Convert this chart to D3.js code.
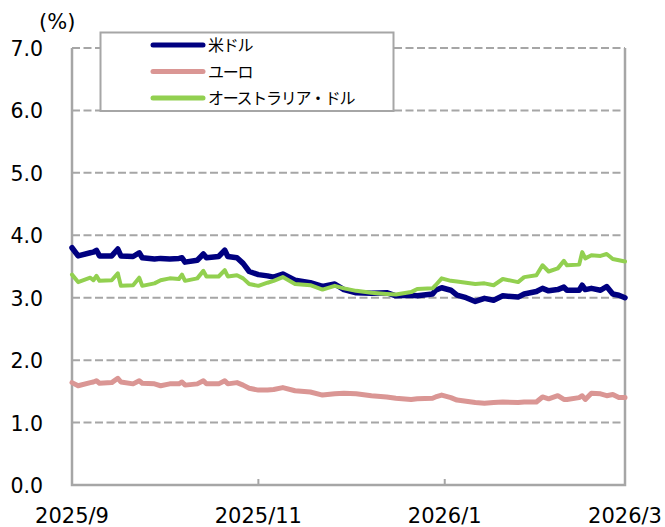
<!DOCTYPE html>
<html>
<head>
<meta charset="utf-8">
<script src="https://cdn.jsdelivr.net/npm/d3@7"></script>
<style>
  body { margin: 0; background: #fff; }
</style>
</head>
<body>
<script>
// Dates of the readings
const dates = [
  "2025-09-01", "2025-09-03", "2025-09-07", "2025-09-08", "2025-09-09", "2025-09-10",
  "2025-09-14", "2025-09-16", "2025-09-17", "2025-09-21", "2025-09-23", "2025-09-24",
  "2025-09-28", "2025-09-30", "2025-10-03", "2025-10-06", "2025-10-07", "2025-10-08",
  "2025-10-12", "2025-10-14", "2025-10-15", "2025-10-19", "2025-10-21", "2025-10-22",
  "2025-10-25", "2025-10-27", "2025-10-29", "2025-11-01", "2025-11-04", "2025-11-06",
  "2025-11-09", "2025-11-13", "2025-11-18", "2025-11-22", "2025-11-26", "2025-11-29",
  "2025-12-03", "2025-12-08", "2025-12-13", "2025-12-16", "2025-12-21", "2025-12-23",
  "2025-12-28", "2025-12-29", "2025-12-31", "2026-01-03", "2026-01-05", "2026-01-08",
  "2026-01-11", "2026-01-14", "2026-01-17", "2026-01-20", "2026-01-25", "2026-01-27",
  "2026-01-31", "2026-02-02", "2026-02-04", "2026-02-07", "2026-02-09", "2026-02-10",
  "2026-02-14", "2026-02-15", "2026-02-16", "2026-02-18", "2026-02-21", "2026-02-23",
  "2026-02-25", "2026-02-27", "2026-03-01"
];

// 米ドル
const usd = [
  3.80, 3.67, 3.72, 3.73, 3.76, 3.67,
  3.67, 3.78, 3.67, 3.66, 3.72, 3.64,
  3.62, 3.63, 3.62, 3.63, 3.64, 3.57,
  3.60, 3.70, 3.64, 3.66, 3.76, 3.66,
  3.64, 3.55, 3.42, 3.37, 3.35, 3.33,
  3.38, 3.28, 3.24, 3.18, 3.22, 3.13,
  3.08, 3.07, 3.08, 3.03, 3.04, 3.03,
  3.06, 3.12, 3.16, 3.12, 3.04, 3.00,
  2.94, 2.99, 2.96, 3.03, 3.01, 3.06,
  3.10, 3.15, 3.11, 3.13, 3.17, 3.12,
  3.12, 3.20, 3.13, 3.15, 3.12, 3.18,
  3.06, 3.04, 3.00
];

// ユーロ
const eur = [
  1.64, 1.59, 1.64, 1.65, 1.67, 1.63,
  1.64, 1.71, 1.65, 1.62, 1.67, 1.63,
  1.62, 1.59, 1.62, 1.62, 1.65, 1.60,
  1.62, 1.67, 1.62, 1.62, 1.67, 1.62,
  1.64, 1.60, 1.55, 1.52, 1.52, 1.53,
  1.56, 1.51, 1.49, 1.44, 1.46, 1.47,
  1.46, 1.43, 1.41, 1.39, 1.37, 1.38,
  1.39, 1.41, 1.44, 1.40, 1.36, 1.34,
  1.32, 1.31, 1.32, 1.33, 1.32, 1.33,
  1.33, 1.41, 1.38, 1.43, 1.37, 1.37,
  1.40, 1.43, 1.37, 1.47, 1.46, 1.43,
  1.45, 1.40, 1.40
];

// オーストラリア・ドル
const aud = [
  3.37, 3.25, 3.32, 3.28, 3.35, 3.27,
  3.28, 3.39, 3.19, 3.20, 3.32, 3.19,
  3.23, 3.28, 3.31, 3.30, 3.37, 3.27,
  3.31, 3.43, 3.34, 3.34, 3.44, 3.34,
  3.36, 3.31, 3.22, 3.19, 3.24, 3.27,
  3.33, 3.22, 3.20, 3.13, 3.19, 3.15,
  3.11, 3.08, 3.06, 3.05, 3.09, 3.14,
  3.15, 3.20, 3.31, 3.27, 3.26, 3.24,
  3.22, 3.23, 3.20, 3.30, 3.25, 3.33,
  3.36, 3.52, 3.42, 3.47, 3.59, 3.52,
  3.53, 3.73, 3.63, 3.68, 3.67, 3.70,
  3.62, 3.60, 3.58
];

const seriesNames = ["米ドル", "ユーロ", "オーストラリア・ドル"];
const seriesColors = ["#000080", "#DA9694", "#92D050"];

const yTicks = [0, 1, 2, 3, 4, 5, 6, 7];
const xTickDates = ["2025-09-01", "2025-11-01", "2026-01-01", "2026-03-01"];
const xTickLabels = ["2025/9", "2025/11", "2026/1", "2026/3"];

// Dimensions
const width = 665;
const height = 527;
const plotLeft = 72;
const plotRight = 625;
const plotTop = 48;
const plotBottom = 485;
const gridColor = "#A6A6A6";
const numFont = "'DejaVu Sans', Verdana, sans-serif";
const jpFont = "'Noto Sans CJK JP', sans-serif";

const parse = d3.utcParse("%Y-%m-%d");

const x = d3.scaleUtc()
  .domain([parse("2025-09-01"), parse("2026-03-01")])
  .range([plotLeft, plotRight]);

const y = d3.scaleLinear()
  .domain([0, 7])
  .range([plotBottom, plotTop]);

const svg = d3.select("body").append("svg")
  .attr("width", width)
  .attr("height", height);

// Gridlines (dashed)
svg.append("g")
  .selectAll("line")
  .data(yTicks.filter(d => d > 0))
  .join("line")
  .attr("x1", plotLeft)
  .attr("x2", plotRight)
  .attr("y1", d => y(d))
  .attr("y2", d => y(d))
  .attr("stroke", gridColor)
  .attr("stroke-width", 2)
  .attr("stroke-dasharray", "8,3.5");

// Y axis labels
svg.append("g")
  .selectAll("text")
  .data(yTicks)
  .join("text")
  .attr("x", 43)
  .attr("y", d => y(d) + 8)
  .attr("text-anchor", "end")
  .attr("font-family", numFont)
  .attr("font-size", 20.5)
  .attr("fill", "#000")
  .text(d => d.toFixed(1));

svg.append("text")
  .attr("x", 39)
  .attr("y", 29)
  .attr("font-family", numFont)
  .attr("font-size", 21)
  .attr("fill", "#000")
  .text("(%)");

// Frame: left, right, bottom
svg.append("path")
  .attr("d", `M${plotLeft},${plotTop}V${plotBottom}H${plotRight}V${plotTop}`)
  .attr("fill", "none")
  .attr("stroke", gridColor)
  .attr("stroke-width", 2.5);

// X ticks and labels
const xAxis = svg.append("g");
xAxis.selectAll("line")
  .data(xTickDates.slice(1, -1))
  .join("line")
  .attr("x1", d => x(parse(d)))
  .attr("x2", d => x(parse(d)))
  .attr("y1", plotBottom)
  .attr("y2", plotBottom - 6)
  .attr("stroke", gridColor)
  .attr("stroke-width", 2);

xAxis.selectAll("text")
  .data(xTickDates)
  .join("text")
  .attr("x", d => x(parse(d)))
  .attr("y", 523)
  .attr("text-anchor", "middle")
  .attr("font-family", numFont)
  .attr("font-size", 21)
  .attr("fill", "#000")
  .text((d, i) => xTickLabels[i]);

// Lines
const allSeries = [usd, eur, aud];
const widths = [5.5, 5, 4];
const line = d3.line()
  .x((d, i) => x(parse(dates[i])))
  .y(d => y(d));

svg.append("g")
  .selectAll("path")
  .data(allSeries)
  .join("path")
  .attr("d", d => line(d))
  .attr("fill", "none")
  .attr("stroke", (d, i) => seriesColors[i])
  .attr("stroke-width", (d, i) => widths[i])
  .attr("stroke-linejoin", "round")
  .attr("stroke-linecap", "round");

// Legend
const legend = svg.append("g");
legend.append("rect")
  .attr("x", 100.5)
  .attr("y", 32.5)
  .attr("width", 293)
  .attr("height", 78.5)
  .attr("fill", "#fff")
  .attr("stroke", gridColor)
  .attr("stroke-width", 2);

const rowY = [45, 71.5, 98];
const items = legend.selectAll(".item")
  .data(seriesNames)
  .join("g")
  .attr("class", "item")
  .attr("transform", (d, i) => `translate(0,${rowY[i]})`);

items.append("line")
  .attr("x1", 153)
  .attr("x2", 203)
  .attr("stroke", (d, i) => seriesColors[i])
  .attr("stroke-width", 5)
  .attr("stroke-linecap", "round");

items.append("text")
  .attr("x", 208)
  .attr("y", 6)
  .attr("font-family", jpFont)
  .attr("font-size", 16)
  .attr("letter-spacing", -1.3)
  .attr("fill", "#000")
  .text(d => d);
</script>
</body>
</html>
